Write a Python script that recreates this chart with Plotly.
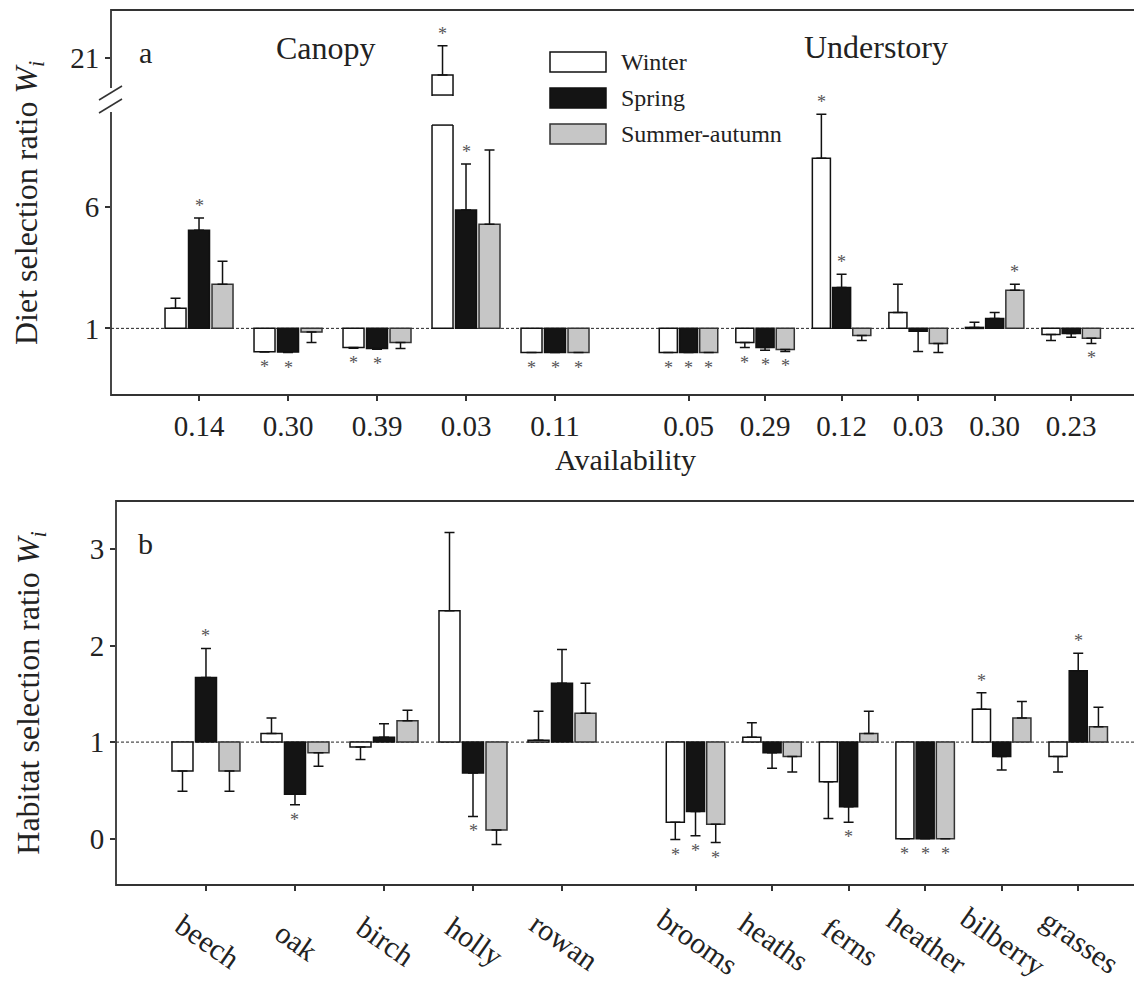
import plotly.graph_objects as go

# ---------------- data ----------------
availability = ["0.14", "0.30", "0.39", "0.03", "0.11", "0.05", "0.29", "0.12", "0.03", "0.30", "0.23"]
habitats = ["beech", "oak", "birch", "holly", "rowan", "brooms", "heaths", "ferns", "heather", "bilberry", "grasses"]
seasons = ["Winter", "Spring", "Summer-autumn"]

diet_winter = [1.83, 0.04, 0.21, 20.3, 0.0, 0.0, 0.42, 8.02, 1.66, 1.04, 0.75]
diet_winter_se = [0.41, 0.02, 0.03, 1.2, 0.0, 0.0, 0.21, 1.82, 1.16, 0.21, 0.25]
diet_spring = [5.05, 0.02, 0.17, 5.88, 0.0, 0.0, 0.21, 2.69, 0.88, 1.41, 0.79]
diet_spring_se = [0.50, 0.02, 0.03, 1.90, 0.0, 0.0, 0.11, 0.54, 0.83, 0.25, 0.16]
diet_summer = [2.82, 0.85, 0.42, 5.30, 0.0, 0.0, 0.13, 0.71, 0.38, 2.57, 0.59]
diet_summer_se = [0.95, 0.43, 0.25, 3.06, 0.0, 0.0, 0.08, 0.21, 0.38, 0.25, 0.21]
diet_sig_winter = [0, 1, 1, 1, 1, 1, 1, 1, 0, 0, 0]
diet_sig_spring = [1, 1, 1, 1, 1, 1, 1, 1, 0, 0, 0]
diet_sig_summer = [0, 0, 0, 0, 1, 1, 1, 0, 0, 1, 1]

hab_winter = [0.70, 1.09, 0.95, 2.36, 1.02, 0.17, 1.05, 0.59, 0.0, 1.34, 0.85]
hab_winter_se = [0.21, 0.16, 0.13, 0.81, 0.30, 0.18, 0.15, 0.38, 0.0, 0.17, 0.16]
hab_spring = [1.67, 0.46, 1.05, 0.68, 1.61, 0.28, 0.89, 0.33, 0.0, 0.85, 1.74]
hab_spring_se = [0.30, 0.11, 0.14, 0.45, 0.35, 0.25, 0.16, 0.16, 0.0, 0.14, 0.18]
hab_summer = [0.70, 0.89, 1.22, 0.09, 1.30, 0.15, 0.85, 1.09, 0.0, 1.25, 1.16]
hab_summer_se = [0.21, 0.14, 0.11, 0.15, 0.31, 0.19, 0.16, 0.23, 0.0, 0.17, 0.20]
hab_sig_winter = [0, 0, 0, 0, 0, 1, 0, 0, 1, 1, 0]
hab_sig_spring = [1, 1, 0, 1, 0, 1, 0, 1, 1, 0, 1]
hab_sig_summer = [0, 0, 0, 0, 0, 1, 0, 0, 1, 0, 0]

# ---------------- layout helpers ----------------
PAGE_OFF = 8                      # default page margin around the figure
W, H = 1142 - PAGE_OFF, 990 - PAGE_OFF
FONT = "Liberation Serif"
def fx(p): return (p - PAGE_OFF) / W
def fy(p): return 1 - (p - PAGE_OFF) / H

n_canopy = 5
und_start, und_step = 5.5, 0.86
centers = [float(i) for i in range(n_canopy)] + [und_start + j * und_step for j in range(len(availability) - n_canopy)]
scales = [1.0] * n_canopy + [und_step] * (len(availability) - n_canopy)
offsets = [-0.264, 0.0, 0.264]
bar_w = 0.236

fills = ["#ffffff", "#141414", "#c6c6c6"]
edges = ["#111111", "#111111", "#333333"]

LOW_RANGE = [-1.75, 10.59]
UP_RANGE = [19.43, 22.98]
BREAK_LOW = 9.39

fig = go.Figure()

def add_bars(vals, ses, k, xaxis, yaxis):
    xs = [c + offsets[k] * s for c, s in zip(centers, scales)]
    fig.add_trace(go.Bar(
        x=xs, y=[v - 1 for v in vals], base=1, width=[bar_w * s for s in scales],
        marker=dict(color=fills[k], line=dict(color=edges[k], width=1.5)),
        error_y=dict(type="data", symmetric=False,
                     array=[e if v >= 1 else 0 for v, e in zip(vals, ses)],
                     arrayminus=[e if v < 1 else 0 for v, e in zip(vals, ses)],
                     color="#111111", thickness=1.5, width=5),
        name=seasons[k], showlegend=False, xaxis=xaxis, yaxis=yaxis, hoverinfo="skip"))
    return xs

annotations = []
def add_stars(vals, ses, sig, xs, xref, yref, upper_yref=None):
    for v, e, s, x in zip(vals, ses, sig, xs):
        if not s:
            continue
        yr = yref
        if upper_yref and v > LOW_RANGE[1]:
            yr = upper_yref
        if v >= 1:
            y, shift = v + e, 12
        else:
            y, shift = v - e, -15
        annotations.append(dict(x=x, y=y, xref=xref, yref=yr, yshift=shift, text="*",
                                showarrow=False, font=dict(family=FONT, size=18, color="#555555")))

diet = [(diet_winter, diet_winter_se, diet_sig_winter),
        (diet_spring, diet_spring_se, diet_sig_spring),
        (diet_summer, diet_summer_se, diet_sig_summer)]
hab = [(hab_winter, hab_winter_se, hab_sig_winter),
       (hab_spring, hab_spring_se, hab_sig_spring),
       (hab_summer, hab_summer_se, hab_sig_summer)]

shapes = []
for k, (v, e, s) in enumerate(diet):
    xs = add_bars(v, e, k, "x", "y")
    add_stars(v, e, s, xs, "x", "y", upper_yref="y3")
    if k == 0:
        # upper segment of the broken axis
        add_bars(v, e, k, "x", "y3")
        for x, val, sc in zip(xs, v, scales):
            if val > LOW_RANGE[1]:
                half = bar_w * sc / 2
                shapes.append(dict(type="rect", xref="x", yref="y", x0=x - half - 0.03, x1=x + half + 0.03,
                                   y0=BREAK_LOW, y1=LOW_RANGE[1] + 0.5, fillcolor="white",
                                   line=dict(width=0), layer="above"))
                shapes.append(dict(type="line", xref="x", yref="y", x0=x - half, x1=x + half,
                                   y0=BREAK_LOW, y1=BREAK_LOW, line=dict(color="#111111", width=1.5), layer="above"))
                shapes.append(dict(type="line", xref="x", yref="y3", x0=x - half, x1=x + half,
                                   y0=UP_RANGE[0] + 0.04, y1=UP_RANGE[0] + 0.04,
                                   line=dict(color="#111111", width=1.5), layer="above"))

for k, (v, e, s) in enumerate(hab):
    xs = add_bars(v, e, k, "x2", "y2")
    add_stars(v, e, s, xs, "x2", "y2")

# reference lines at 1
shapes.append(dict(type="line", xref="paper", yref="y", x0=fx(111), x1=fx(1140), y0=1, y1=1,
                   line=dict(color="#222222", width=1, dash="3px,2px"), layer="below"))
shapes.append(dict(type="line", xref="paper", yref="y2", x0=fx(116), x1=fx(1140), y0=1, y1=1,
                   line=dict(color="#222222", width=1, dash="3px,2px"), layer="below"))
# frames
shapes.append(dict(type="rect", xref="paper", yref="paper", x0=fx(111), x1=fx(1140), y0=fy(395), y1=fy(10),
                   line=dict(color="#333333", width=1.8), layer="above"))
shapes.append(dict(type="rect", xref="paper", yref="paper", x0=fx(116), x1=fx(1140), y0=fy(885), y1=fy(501),
                   line=dict(color="#333333", width=1.8), layer="above"))
# axis-break marks
shapes.append(dict(type="rect", xref="paper", yref="paper", x0=fx(108), x1=fx(114), y0=fy(112), y1=fy(88),
                   fillcolor="white", line=dict(width=0), layer="above"))
for y_a, y_b in [(100, 86), (113, 99)]:
    shapes.append(dict(type="line", xref="paper", yref="paper", x0=fx(99), x1=fx(122), y0=fy(y_a), y1=fy(y_b),
                       line=dict(color="#333333", width=1.5), layer="above"))

# legend (manual, wide swatches)
for k, (name, yc) in enumerate(zip(seasons, [62, 98, 134])):
    shapes.append(dict(type="rect", xref="paper", yref="paper", x0=fx(550), x1=fx(606), y0=fy(yc + 10), y1=fy(yc - 10),
                       fillcolor=fills[k], line=dict(color=edges[k], width=1.5), layer="above"))
    annotations.append(dict(x=fx(619), y=fy(yc), xref="paper", yref="paper", text=name, showarrow=False,
                            xanchor="left", yanchor="middle", font=dict(family=FONT, size=24, color="#222222")))

# panel texts
for txt, x, y, size in [("a", 145, 52, 30), ("Canopy", 326, 48, 32), ("Understory", 876, 47, 32), ("b", 145, 543, 30)]:
    annotations.append(dict(x=fx(x), y=fy(y), xref="paper", yref="paper", text=txt, showarrow=False,
                            xanchor="center", yanchor="middle", font=dict(family=FONT, size=size, color="#222222")))
annotations.append(dict(x=fx(28), y=fy(203), xref="paper", yref="paper", textangle=-90,
                        text="Diet selection ratio <i>W</i><sub><i>i</i></sub>", showarrow=False,
                        xanchor="center", yanchor="middle", font=dict(family=FONT, size=32, color="#222222")))
# habitat category labels (rotated, centred under each group)
for name, c in zip(habitats, centers):
    annotations.append(dict(x=c, y=fy(941), xref="x2", yref="paper", text=name, textangle=35, xshift=2,
                            showarrow=False, xanchor="center", yanchor="middle",
                            font=dict(family=FONT, size=30, color="#222222")))

tickfont = dict(family=FONT, size=29, color="#222222")
common_axis = dict(showgrid=False, zeroline=False, showline=False, ticks="outside", ticklen=5,
                   tickwidth=1.5, tickcolor="#333333", tickfont=tickfont)

fig.update_layout(
    width=W, height=H, margin=dict(l=0, r=0, t=0, b=0),
    paper_bgcolor="white", plot_bgcolor="white", barmode="overlay",
    font=dict(family=FONT, color="#222222"),
    xaxis=dict(domain=[fx(111), fx(1140)], range=[-0.989, 10.573], anchor="y",
               tickvals=centers, ticktext=availability,
               title=dict(text="Availability", font=dict(family=FONT, size=30), standoff=8), **common_axis),
    yaxis=dict(domain=[fy(395), fy(96)], range=LOW_RANGE, anchor="x", tickvals=[1, 6], **common_axis),
    yaxis3=dict(domain=[fy(96), fy(10)], range=UP_RANGE, anchor="x", tickvals=[21], **common_axis),
    xaxis2=dict(domain=[fx(116), fx(1140)], range=[-1.011, 10.494], anchor="y2",
                tickvals=centers, showticklabels=False, **common_axis),
    yaxis2=dict(domain=[fy(885), fy(501)], range=[-0.48, 3.497], anchor="x2", tickvals=[0, 1, 2, 3],
                title=dict(text="Habitat selection ratio <i>W</i><sub><i>i</i></sub>",
                           font=dict(family=FONT, size=32), standoff=40), **common_axis),
    shapes=shapes, annotations=annotations,
)

fig.write_html("out.html")
